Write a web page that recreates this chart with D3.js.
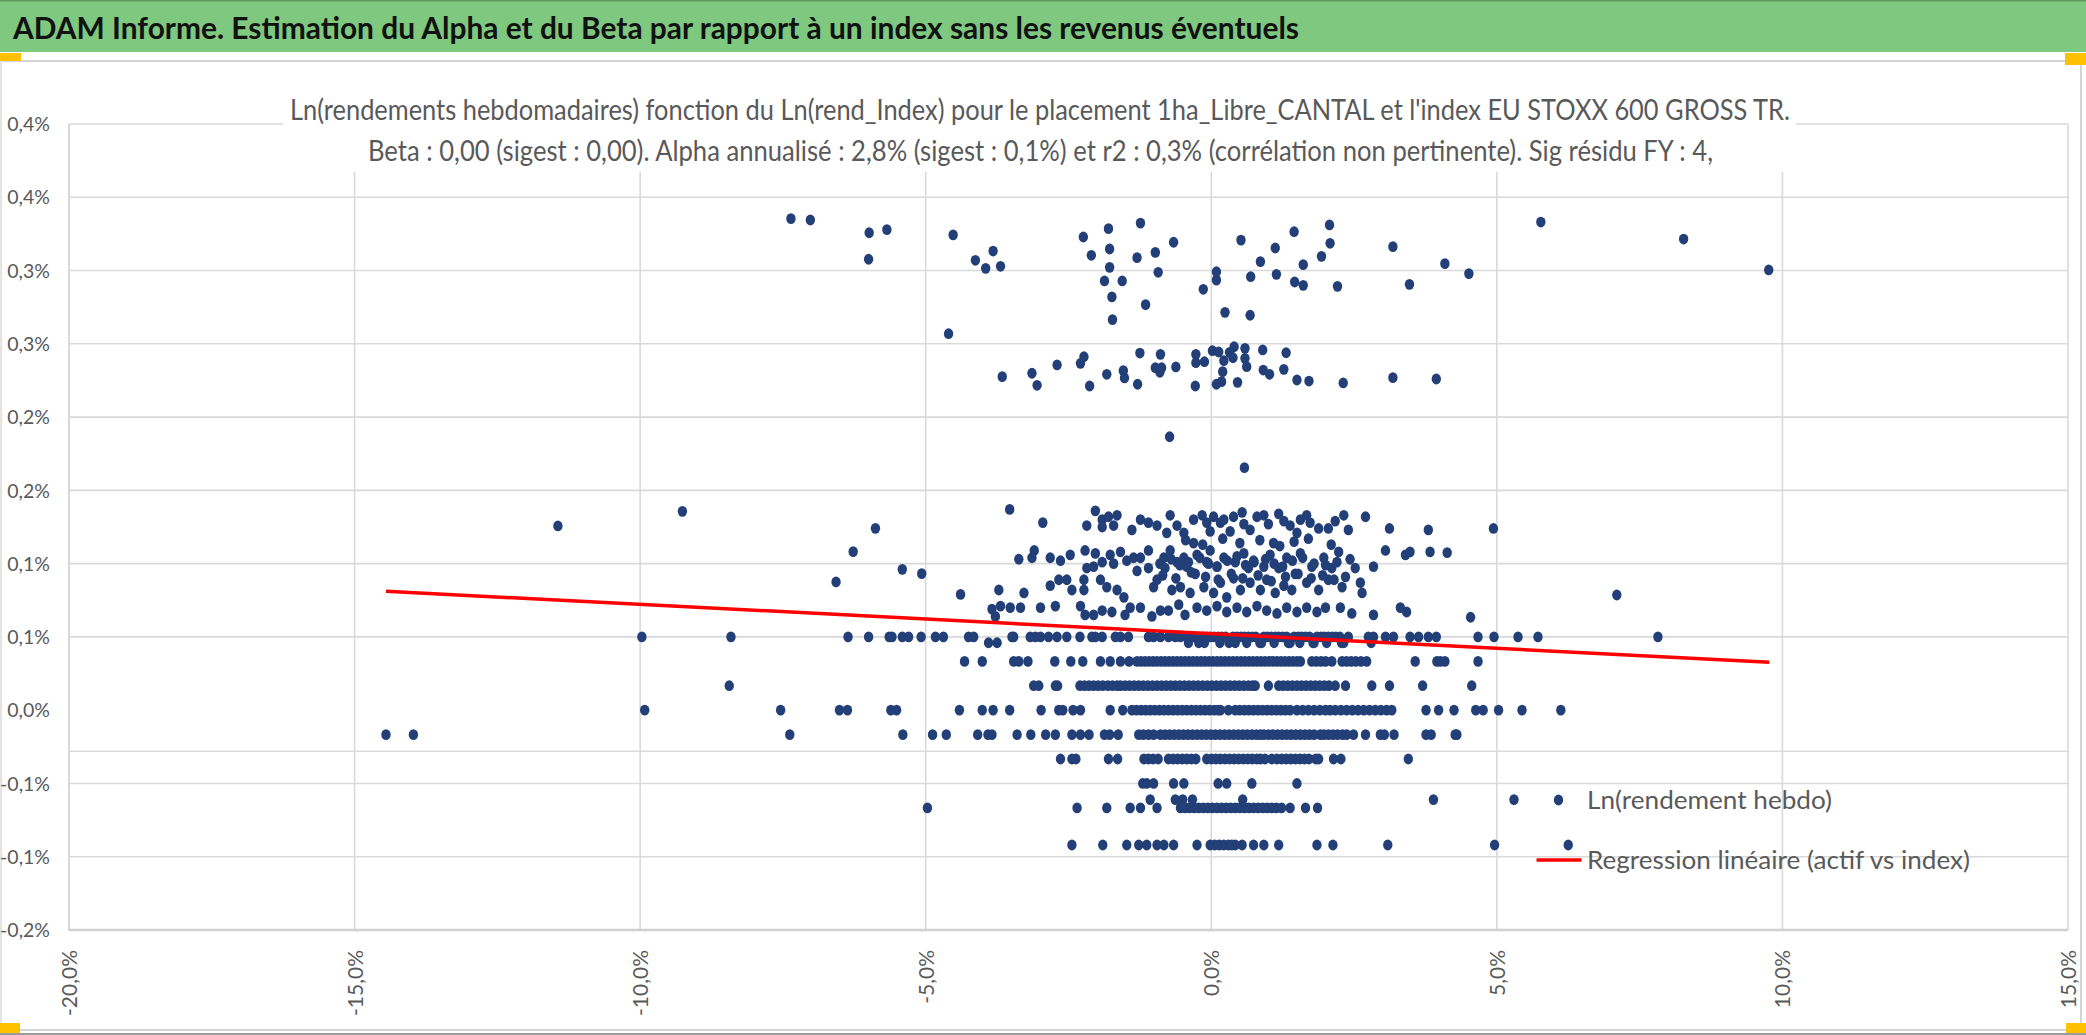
<!DOCTYPE html>
<html><head><meta charset="utf-8">
<script src="https://cdn.jsdelivr.net/npm/d3@7"></script>
<style>html,body{margin:0;padding:0;background:#fff;overflow:hidden}svg{display:block}</style>
</head><body>
<svg id="chart" width="2086" height="1035"></svg>
<script>
// ---------------- DATA ----------------
const titleText = "ADAM Informe. Estimation du Alpha et du Beta par rapport à un index sans les revenus éventuels";
const subtitleLine1 = "Ln(rendements hebdomadaires) fonction du Ln(rend_Index) pour le placement 1ha_Libre_CANTAL et l'index EU STOXX 600 GROSS TR.";
const subtitleLine2 = "Beta : 0,00 (sigest : 0,00). Alpha annualisé : 2,8% (sigest : 0,1%) et r2 : 0,3% (corrélation non pertinente). Sig résidu FY : 4,";
const legendLabels = ["Ln(rendement hebdo)", "Regression linéaire (actif vs index)"];

const xTicks = [-20, -15, -10, -5, 0, 5, 10, 15];
const xTickLabels = ["-20,0%", "-15,0%", "-10,0%", "-5,0%", "0,0%", "5,0%", "10,0%", "15,0%"];
const yTicks = [-0.15, -0.10, -0.05, 0, 0.05, 0.10, 0.15, 0.20, 0.25, 0.30, 0.35, 0.40];
const yTickLabels = ["-0,2%", "-0,1%", "-0,1%", "0,0%", "0,1%", "0,1%", "0,2%", "0,2%", "0,3%", "0,3%", "0,4%", "0,4%"];
const xDomain = [-20, 15];
const yDomain = [-0.15, 0.40];
const axisCrossY = -0.028;

// regression line (x in %, y in %)
const regX = [-14.45, 9.77];
const regY = [0.0811, 0.0327];

// quantized rows of weekly returns: x values (index return %) per y level
const row050 = [-9.97, -8.41, -6.36, -6.00, -5.64, -5.59, -5.41, -5.30, -5.08, -4.83, -4.69, -4.25, -4.16, -3.49, -3.46, -3.17, -3.08, -2.99, -2.85, -2.70, -2.53, -2.30, -2.09, -2.03, -1.91, -1.68, -1.59, -1.45, -1.10, -1.01, -0.89, -0.75, -0.63, -0.54, -0.43, -0.36, -0.30, -0.15, -0.08, -0.02, 0.05, 0.12, 0.18, 0.25, 0.38, 0.45, 0.52, 0.58, 0.65, 0.72, 0.78, 0.92, 0.98, 1.05, 1.12, 1.18, 1.25, 1.32, 1.45, 1.52, 1.58, 1.65, 1.72, 1.85, 1.92, 1.98, 2.05, 2.12, 2.18, 2.25, 2.40, 2.75, 2.84, 3.05, 3.19, 3.48, 3.63, 3.80, 3.94, 4.67, 4.95, 5.37, 5.72, 7.82];
const row046 = [-3.90, -3.75, -0.40, -0.22, -0.12, 0.15, 0.31, 0.42, 0.62, 0.85, 0.88, 1.10, 1.38, 1.35, 1.55, 1.78, 1.80, 2.02, 2.28, 2.32, 2.80];
const row033 = [-4.32, -4.01, -3.46, -3.37, -3.21, -2.74, -2.46, -2.25, -1.94, -1.77, -1.59, -1.44, -1.30, -1.23, -1.16, -1.09, -1.02, -0.95, -0.88, -0.81, -0.74, -0.67, -0.60, -0.53, -0.46, -0.39, -0.32, -0.25, -0.18, -0.11, -0.04, 0.03, 0.10, 0.17, 0.24, 0.31, 0.38, 0.45, 0.52, 0.59, 0.66, 0.73, 0.80, 0.87, 0.94, 1.01, 1.08, 1.15, 1.22, 1.29, 1.36, 1.43, 1.50, 1.56, 1.76, 1.84, 1.92, 2.00, 2.11, 2.29, 2.37, 2.45, 2.53, 2.62, 2.72, 3.57, 3.95, 4.01, 4.09, 4.67];
const row017 = [-8.44, -3.11, -3.02, -2.73, -2.69, -2.30, -2.22, -2.14, -2.06, -1.98, -1.90, -1.81, -1.73, -1.65, -1.59, -1.51, -1.43, -1.35, -1.27, -1.19, -1.11, -1.03, -0.95, -0.87, -0.79, -0.71, -0.63, -0.55, -0.47, -0.39, -0.31, -0.23, -0.15, -0.07, 0.01, 0.09, 0.17, 0.25, 0.33, 0.41, 0.49, 0.57, 0.65, 0.72, 0.77, 1.00, 1.18, 1.26, 1.34, 1.42, 1.50, 1.58, 1.66, 1.74, 1.82, 1.90, 1.98, 2.06, 2.17, 2.35, 2.81, 3.12, 3.70, 4.56];
const row000 = [-9.92, -7.54, -6.51, -6.37, -5.61, -5.51, -4.41, -4.01, -3.82, -3.53, -2.98, -2.67, -2.60, -2.42, -2.29, -1.77, -1.55, -1.39, -1.31, -1.23, -1.15, -1.07, -0.99, -0.91, -0.83, -0.75, -0.67, -0.59, -0.51, -0.43, -0.35, -0.27, -0.19, -0.11, -0.03, 0.05, 0.12, 0.16, 0.30, 0.42, 0.50, 0.58, 0.66, 0.74, 0.82, 0.90, 0.98, 1.06, 1.14, 1.22, 1.30, 1.38, 1.50, 1.60, 1.70, 1.80, 1.90, 2.00, 2.08, 2.17, 2.27, 2.37, 2.47, 2.57, 2.67, 2.77, 2.87, 2.97, 3.07, 3.16, 3.76, 3.98, 4.25, 4.63, 4.76, 5.03, 5.44, 6.12];
const rowM017 = [-14.45, -13.97, -7.38, -5.40, -4.88, -4.64, -4.09, -3.91, -3.84, -3.40, -3.16, -2.90, -2.73, -2.44, -2.29, -2.14, -1.87, -1.78, -1.63, -1.27, -1.19, -1.10, -1.01, -0.89, -0.81, -0.73, -0.65, -0.57, -0.49, -0.41, -0.33, -0.25, -0.17, -0.09, -0.01, 0.07, 0.15, 0.23, 0.31, 0.39, 0.47, 0.55, 0.63, 0.71, 0.79, 0.86, 0.92, 1.00, 1.08, 1.16, 1.24, 1.32, 1.40, 1.48, 1.56, 1.64, 1.72, 1.80, 1.91, 1.97, 2.05, 2.13, 2.21, 2.30, 2.37, 2.49, 2.70, 2.96, 3.03, 3.20, 3.76, 3.85, 4.27, 4.30];
const rowM033 = [-2.64, -2.44, -2.37, -1.80, -1.64, -1.18, -1.10, -1.02, -0.93, -0.75, -0.67, -0.59, -0.51, -0.43, -0.35, -0.27, -0.08, 0.00, 0.08, 0.16, 0.24, 0.32, 0.40, 0.48, 0.56, 0.64, 0.72, 0.80, 0.86, 0.94, 1.06, 1.15, 1.23, 1.31, 1.39, 1.47, 1.55, 1.63, 1.71, 1.83, 1.88, 2.14, 2.27, 3.45];
const rowM050 = [-1.20, -1.13, -1.01, -0.66, -0.48, 0.12, 0.27, 0.71, 1.50];
const rowM061 = [-1.07, -0.63, -0.50, -0.33, 0.55, 3.89, 5.30];
const rowM067 = [-4.97, -2.35, -1.83, -1.42, -1.24, -0.95, -0.54, -0.46, -0.38, -0.30, -0.22, -0.14, -0.06, 0.02, 0.10, 0.18, 0.26, 0.34, 0.42, 0.50, 0.58, 0.66, 0.74, 0.82, 0.90, 0.98, 1.06, 1.14, 1.23, 1.38, 1.65, 1.86];
const rowM092 = [-2.44, -1.90, -1.48, -1.27, -1.13, -0.95, -0.83, -0.66, -0.25, -0.02, 0.06, 0.14, 0.22, 0.30, 0.36, 0.42, 0.54, 0.74, 0.92, 1.18, 1.85, 2.13, 3.09, 4.96, 6.25];

// scattered upper points (0.16% – 0.34%)
const upperX = [-7.36, -7.02, -5.99, -5.68, -6.00, -4.52, -3.82, -4.13, -3.95, -3.69, -4.60, -2.24, -1.80, -1.24, -2.10, -1.78, -1.30, -0.98, -0.66, -1.78, -1.87, -1.56, -0.93, -1.74, -1.15, -1.73, -0.14, 0.09, 0.09, 0.52, 0.69, 1.12, 0.86, 1.14, 1.45, 2.07, 2.08, 1.93, 1.61, 1.46, 1.61, 2.21, 3.18, 3.47, 4.09, 4.51, 5.77, 8.27, 9.76, 0.24, 0.68,
  -3.66, -3.14, -3.05, -2.70, -2.29, -2.23, -2.13, -1.83, -1.54, -1.52, -1.29, -1.25, -0.98, -0.89, -0.87, -0.90, -0.62, -0.27, -0.27, -0.28, -0.12, 0.02, 0.13, 0.22, 0.20, 0.18, 0.09, 0.32, 0.40, 0.38, 0.59, 0.59, 0.62, 0.46, 0.90, 0.91, 1.02, 1.31, 1.27, 1.50, 1.71, 2.31, 3.18, 3.94, -0.73, 0.58];
const upperY = [0.3354, 0.3345, 0.3258, 0.3279, 0.3077, 0.3243, 0.3133, 0.3070, 0.3015, 0.3029, 0.2569, 0.3229, 0.3286, 0.3324, 0.3104, 0.3147, 0.3088, 0.3124, 0.3193, 0.3022, 0.2929, 0.2929, 0.2988, 0.2820, 0.2767, 0.2665, 0.2872, 0.2992, 0.2935, 0.3208, 0.2958, 0.3154, 0.3061, 0.2974, 0.3265, 0.3311, 0.3186, 0.3097, 0.3040, 0.2922, 0.2899, 0.2892, 0.3163, 0.2906, 0.3047, 0.2979, 0.3331, 0.3215, 0.3004, 0.2715, 0.2695,
  0.2276, 0.2299, 0.2217, 0.2356, 0.2367, 0.2412, 0.2212, 0.2292, 0.2317, 0.2267, 0.2224, 0.2437, 0.2337, 0.2428, 0.2337, 0.2306, 0.2342, 0.2428, 0.2371, 0.2212, 0.2378, 0.2453, 0.2444, 0.2385, 0.2310, 0.2242, 0.2224, 0.2442, 0.2480, 0.2405, 0.2469, 0.2401, 0.2344, 0.2237, 0.2458, 0.2321, 0.2292, 0.2439, 0.2326, 0.2253, 0.2246, 0.2233, 0.2269, 0.2260, 0.1866, 0.1655];

// scattered cluster between 0.06% and 0.14%
const midX = [-3.53, -2.95, -2.18, -2.03, -1.91, -1.80, -1.91, -1.65, -1.71, -1.39, -1.24, -1.10, -0.95, -0.78, -0.72, -0.60, -0.48, -0.31, -0.31, -0.16, -0.08, 0.04, -0.02, 0.16, 0.22, 0.33, 0.39, 0.54, 0.57, 0.68, 0.80, 0.92, 1.00, 1.09, 1.18, 1.27, 1.38, 1.50, 1.56, 1.67, 1.73, 1.88, 2.05, 2.17, 2.32, 2.40, 2.70, 3.12, 3.80,
  -4.39, -3.72, -3.37, -3.14, -3.10, -3.28, -2.82, -2.82, -2.64, -2.67, -2.53, -2.44, -2.47, -2.23, -2.23, -2.21, -2.18, -2.06, -2.03, -1.94, -1.91, -1.83, -1.77, -1.71, -1.65, -1.59, -1.53, -1.48, -1.36, -1.30, -1.24, -1.10, -1.10, -1.01, -0.95, -0.83, -0.81, -0.72, -0.69, -0.60, -0.54, -0.48, -0.43, -0.37, -0.28, -0.25, -0.13, -0.08, -0.02, 0.04, 0.10, 0.16, 0.22, 0.27, 0.39, 0.42, 0.51, 0.57, 0.65, 0.68, 0.74, 0.86, 0.92, 0.97, 1.03, 1.12, 1.18, 1.27, 1.32, 1.41, 1.47, 1.56, 1.67, 1.76, 1.88, 1.97, 2.05, 2.11, 2.23, 2.29, 2.43, 2.52, 2.61, 2.64, 2.84, 3.05, 3.40, 3.48, 3.83,
  -3.84, -3.69, -3.78, -3.52, -3.34, -2.99, -2.73, -2.29, -2.21, -2.06, -1.91, -1.74, -1.51, -1.42, -1.24, -1.04, -0.89, -0.75, -0.57, -0.46, -0.25, -0.08, 0.10, 0.27, 0.45, 0.62, 0.80, 0.97, 1.15, 1.32, 1.50, 1.67, 1.85, 2.00, 2.26, 2.46, 2.84, 3.31, 3.42];
const midY = [0.137, 0.128, 0.126, 0.136, 0.130, 0.132, 0.125, 0.133, 0.126, 0.123, 0.130, 0.128, 0.126, 0.121, 0.133, 0.126, 0.121, 0.130, 0.114, 0.133, 0.128, 0.132, 0.122, 0.128, 0.130, 0.122, 0.132, 0.135, 0.127, 0.123, 0.132, 0.133, 0.127, 0.114, 0.134, 0.129, 0.126, 0.121, 0.130, 0.133, 0.128, 0.124, 0.124, 0.129, 0.133, 0.123, 0.132, 0.124, 0.123,
  0.079, 0.082, 0.103, 0.104, 0.109, 0.080, 0.104, 0.085, 0.102, 0.089, 0.089, 0.082, 0.106, 0.082, 0.089, 0.109, 0.097, 0.098, 0.107, 0.089, 0.101, 0.084, 0.106, 0.100, 0.082, 0.108, 0.077, 0.102, 0.104, 0.095, 0.104, 0.109, 0.097, 0.084, 0.089, 0.104, 0.097, 0.109, 0.082, 0.101, 0.084, 0.104, 0.098, 0.080, 0.093, 0.106, 0.084, 0.101, 0.109, 0.080, 0.098, 0.087, 0.104, 0.077, 0.090, 0.101, 0.082, 0.107, 0.097, 0.087, 0.102, 0.082, 0.098, 0.089, 0.106, 0.080, 0.097, 0.085, 0.104, 0.082, 0.093, 0.107, 0.087, 0.098, 0.082, 0.104, 0.089, 0.097, 0.108, 0.084, 0.103, 0.097, 0.087, 0.080, 0.098, 0.109, 0.106, 0.108, 0.108,
  0.069, 0.071, 0.064, 0.070, 0.070, 0.070, 0.071, 0.071, 0.065, 0.065, 0.068, 0.067, 0.065, 0.070, 0.070, 0.064, 0.068, 0.068, 0.072, 0.065, 0.070, 0.068, 0.071, 0.067, 0.070, 0.067, 0.071, 0.068, 0.066, 0.070, 0.067, 0.070, 0.067, 0.070, 0.070, 0.066, 0.065, 0.070, 0.067];

// denser core of the cluster (0.09% – 0.12%, index return -1% … 2.4%)
const coreX = [-0.90, -0.70, -0.55, -0.40, -0.20, -0.05, 0.10, 0.28, 0.45, 0.60, 0.75, 0.95, 1.10, 1.25, 1.42, 1.60, 1.80, 2.00, 2.20,
  -0.85, -0.62, -0.35, -0.10, 0.12, 0.35, 0.55, 0.82, 1.05, 1.30, 1.52, 1.75, 1.95, 2.15, 2.35,
  -0.45, -0.15, 0.20, 0.50, 0.85, 1.20, 1.45, 1.70, 2.10];
const coreY = [0.100, 0.103, 0.099, 0.101, 0.104, 0.100, 0.098, 0.102, 0.105, 0.099, 0.101, 0.103, 0.100, 0.098, 0.102, 0.104, 0.100, 0.099, 0.101,
  0.092, 0.090, 0.094, 0.091, 0.089, 0.093, 0.090, 0.092, 0.088, 0.091, 0.093, 0.090, 0.092, 0.089, 0.091,
  0.116, 0.113, 0.117, 0.114, 0.116, 0.112, 0.115, 0.117, 0.113];

// isolated points far from the centre
const sideX = [-11.44, -9.26, -5.88, -6.27, -6.57, -5.41, -5.07, 4.94, 4.13, 7.10, 4.54];
const sideY = [0.1257, 0.1357, 0.1241, 0.1082, 0.0875, 0.0961, 0.0932, 0.124, 0.1075, 0.0786, 0.0634];

// ---------------- BUILD ----------------
const rowTable = [
  [0.050, row050], [0.046, row046], [0.0333, row033], [0.0167, row017], [0, row000],
  [-0.0167, rowM017], [-0.0333, rowM033], [-0.050, rowM050], [-0.061, rowM061],
  [-0.0667, rowM067], [-0.092, rowM092]
];
const points = [];
rowTable.forEach(([lvl, xs]) => xs.forEach(v => points.push({x: v, y: lvl})));
[[upperX, upperY], [midX, midY], [coreX, coreY], [sideX, sideY]].forEach(([xs, ys]) =>
  xs.forEach((v, i) => points.push({x: v, y: ys[i]})));

const W = 2086, H = 1035;
const plot = {left: 69, right: 2068, top: 124, bottom: 930};
const txt = "#595959", grid = "#d9d9d9", dotCol = "#233f78";
const FONT = "Lato, 'Noto Sans', 'DejaVu Sans', sans-serif";

const svg = d3.select("#chart");
const x = d3.scaleLinear().domain(xDomain).range([plot.left, plot.right]);
const y = d3.scaleLinear().domain(yDomain).range([plot.bottom, plot.top]);

// background
svg.append("rect").attr("width", W).attr("height", H).attr("fill", "#fff");

// header band
svg.append("rect").attr("x", 0).attr("y", 0).attr("width", W).attr("height", 52).attr("fill", "#7ec87f");
svg.append("line").attr("x1", 0).attr("x2", W).attr("y1", 0.75).attr("y2", 0.75).attr("stroke", "#5f9a60").attr("stroke-width", 1.5);
svg.append("text").attr("x", 13).attr("y", 39).attr("font-family", FONT).attr("font-weight", 700)
  .attr("font-size", 31).attr("fill", "#111").attr("textLength", 1286).attr("lengthAdjust", "spacingAndGlyphs").text(titleText);

// chart area border
svg.append("line").attr("x1", 0).attr("x2", W).attr("y1", 61).attr("y2", 61).attr("stroke", "#d4d4d4").attr("stroke-width", 2);
svg.append("line").attr("x1", 2081).attr("x2", 2081).attr("y1", 61).attr("y2", 1030).attr("stroke", "#d4d4d4").attr("stroke-width", 2);
svg.append("line").attr("x1", 1).attr("x2", 1).attr("y1", 61).attr("y2", 1030).attr("stroke", "#e4e4e4").attr("stroke-width", 2);
svg.append("line").attr("x1", 0).attr("x2", W).attr("y1", 1030).attr("y2", 1030).attr("stroke", "#d4d4d4").attr("stroke-width", 2);
svg.append("line").attr("x1", 0).attr("x2", W).attr("y1", 1034).attr("y2", 1034).attr("stroke", "#9a9a9a").attr("stroke-width", 2);

// gridlines
const gridG = svg.append("g");
const hLines = yTicks.filter(v => v !== 0 && v !== yDomain[0]).concat([axisCrossY]);
gridG.selectAll("line.h").data(hLines).join("line")
  .attr("x1", plot.left).attr("x2", plot.right).attr("y1", d => y(d)).attr("y2", d => y(d))
  .attr("stroke", grid).attr("stroke-width", 1.6);
gridG.selectAll("line.v").data(xTicks.slice(1)).join("line")
  .attr("x1", d => x(d)).attr("x2", d => x(d)).attr("y1", plot.top).attr("y2", plot.bottom)
  .attr("stroke", grid).attr("stroke-width", 1.6);
gridG.append("line").attr("x1", plot.left).attr("x2", plot.left).attr("y1", plot.top).attr("y2", plot.bottom + 1)
  .attr("stroke", grid).attr("stroke-width", 2);
gridG.append("line").attr("x1", plot.left).attr("x2", plot.right).attr("y1", y(yDomain[0])).attr("y2", y(yDomain[0]))
  .attr("stroke", "#d0d0d0").attr("stroke-width", 2.5);

// subtitle box (covers gridlines)
svg.append("rect").attr("x", 283).attr("y", 80).attr("width", 1796 - 283).attr("height", 171.7 - 80).attr("fill", "#fff");
svg.append("text").attr("x", 290).attr("y", 120).attr("font-family", FONT).attr("font-size", 29).attr("fill", txt)
  .attr("textLength", 1500).attr("lengthAdjust", "spacingAndGlyphs").text(subtitleLine1);
svg.append("text").attr("x", 368).attr("y", 161).attr("font-family", FONT).attr("font-size", 29).attr("fill", txt)
  .attr("textLength", 1345).attr("lengthAdjust", "spacingAndGlyphs").text(subtitleLine2);

// axes (labels only)
const yAxis = d3.axisLeft(y).tickValues(yTicks).tickFormat((d, i) => yTickLabels[i]).tickSize(0).tickPadding(0);
const gy = svg.append("g").attr("transform", "translate(50,0)").call(yAxis);
gy.select(".domain").remove();
gy.selectAll("text").attr("font-family", FONT).attr("font-size", 19.5).attr("fill", txt).attr("dy", "0.34em");

const xAxis = d3.axisBottom(x).tickValues(xTicks).tickFormat((d, i) => xTickLabels[i]).tickSize(0).tickPadding(0);
const gx = svg.append("g").attr("transform", "translate(0,950)").call(xAxis);
gx.select(".domain").remove();
gx.selectAll("text").attr("font-family", FONT).attr("font-size", 21).attr("fill", txt)
  .attr("transform", "rotate(-90)").attr("text-anchor", "end").attr("x", 0).attr("y", 0).attr("dy", "0.36em");

// data points
svg.append("g").selectAll("ellipse").data(points).join("ellipse")
  .attr("cx", d => x(d.x)).attr("cy", d => y(d.y)).attr("rx", 4.7).attr("ry", 5.4).attr("fill", dotCol);

// regression line
const regLine = d3.line().x(d => x(d[0])).y(d => y(d[1]));
svg.append("path").datum(regX.map((v, i) => [v, regY[i]])).attr("d", regLine)
  .attr("stroke", "#ff0000").attr("stroke-width", 3.5).attr("fill", "none");

// legend
const lg = svg.append("g");
lg.append("ellipse").attr("cx", 1558.5).attr("cy", 800).attr("rx", 4.7).attr("ry", 5.4).attr("fill", dotCol);
lg.append("text").attr("x", 1587).attr("y", 809).attr("font-family", FONT).attr("font-size", 25).attr("fill", txt)
  .attr("textLength", 245).attr("lengthAdjust", "spacingAndGlyphs").text(legendLabels[0]);
lg.append("line").attr("x1", 1536.5).attr("x2", 1581.5).attr("y1", 860).attr("y2", 860).attr("stroke", "#ff0000").attr("stroke-width", 3.5);
lg.append("text").attr("x", 1587).attr("y", 869).attr("font-family", FONT).attr("font-size", 25).attr("fill", txt)
  .attr("textLength", 383).attr("lengthAdjust", "spacingAndGlyphs").text(legendLabels[1]);

// selection handles
const hy = "#ffc000";
svg.append("rect").attr("x", 0).attr("y", 53).attr("width", 21).attr("height", 8).attr("fill", hy);
svg.append("rect").attr("x", 2065).attr("y", 53).attr("width", 21).attr("height", 12).attr("fill", hy);
svg.append("rect").attr("x", 0).attr("y", 1023).attr("width", 20).attr("height", 10).attr("fill", hy);
svg.append("rect").attr("x", 2066).attr("y", 1023).attr("width", 20).attr("height", 10).attr("fill", hy);
</script>
</body></html>
